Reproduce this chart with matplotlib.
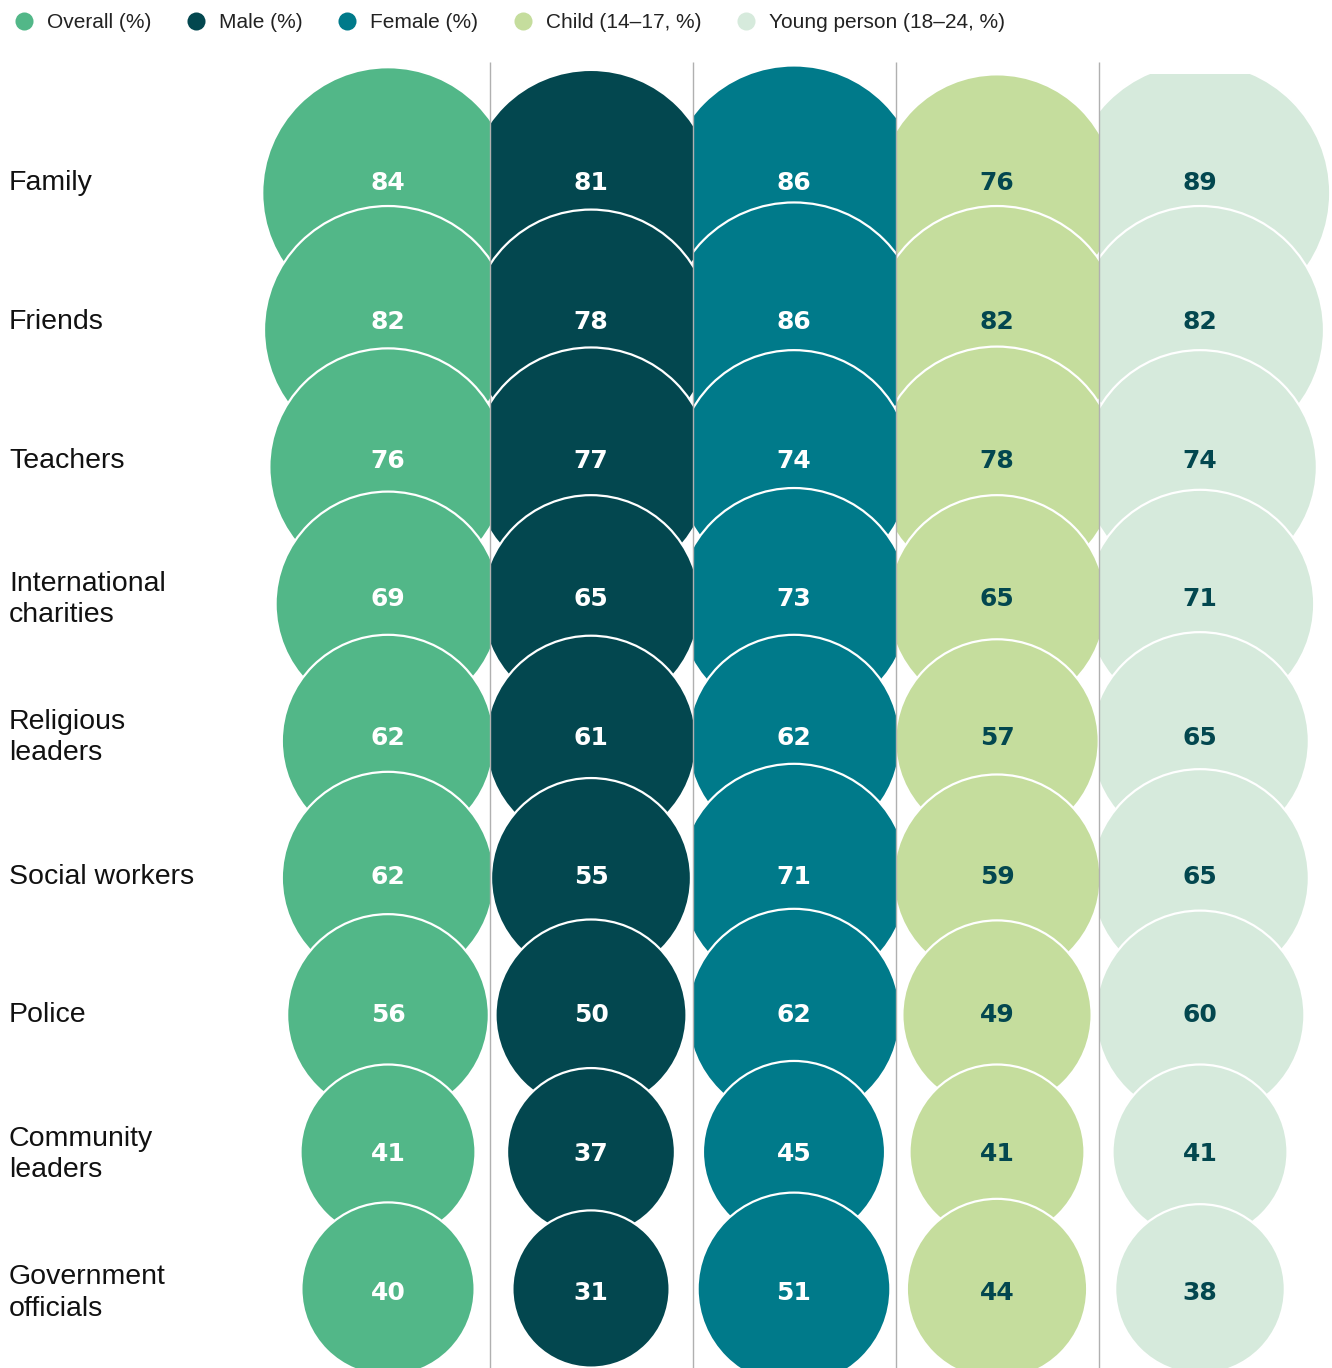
"""Trust in groups, bubble grid by respondent group."""

import matplotlib.pyplot as plt
from matplotlib.lines import Line2D
from matplotlib.patches import Circle, Rectangle
import numpy as np

groups = [
    "Family",
    "Friends",
    "Teachers",
    "International\ncharities",
    "Religious\nleaders",
    "Social workers",
    "Police",
    "Community\nleaders",
    "Government\nofficials",
]
series = [
    "Overall (%)",
    "Male (%)",
    "Female (%)",
    "Child (14–17, %)",
    "Young person (18–24, %)",
]

overall = [84, 82, 76, 69, 62, 62, 56, 41, 40]
male = [81, 78, 77, 65, 61, 55, 50, 37, 31]
female = [86, 86, 74, 73, 62, 71, 62, 45, 51]
child = [76, 82, 78, 65, 57, 59, 49, 41, 44]
young = [89, 82, 74, 71, 65, 65, 60, 41, 38]

colors = ["#52b788", "#03474f", "#007a8a", "#c5dd9d", "#d6eadc"]
value_colors = ["white", "white", "white", "#03474f", "#03474f"]

# layout, in pixels of the saved image
W, H, DPI = 1332, 1368, 100
UNIT = 137.0            # one row of bubbles
COL_STEP = 203 / UNIT   # distance between columns
X_FIRST = 388           # centre of the first column
Y_FIRST = 193           # centre of the first row
TOP = 62                # top of the column rules


def radius(v):
    return (51 + 0.89 * v) / UNIT


def main():
    data = [overall, male, female, child, young]
    n_rows = len(groups)
    n_cols = len(series)

    fig = plt.figure(figsize=(W / DPI, H / DPI), dpi=DPI)
    ax = fig.add_axes([0, 0, 1, (H - TOP) / H])
    x_lo, x_hi = -X_FIRST / UNIT, (W - X_FIRST) / UNIT
    y_top, y_bot = -(Y_FIRST - TOP) / UNIT, (H - Y_FIRST) / UNIT
    ax.set_xlim(x_lo, x_hi)
    ax.set_ylim(y_bot, y_top)
    ax.axis("off")

    xs = np.arange(n_cols) * COL_STEP
    ys = np.arange(n_rows)
    # text rows sit on a slightly wider grid than the bubbles
    label_ys = np.linspace(-10 / UNIT, (1293 - Y_FIRST) / UNIT, n_rows)

    # each column keeps its bubbles inside its own strip
    clips = []
    for i in range(n_cols):
        left = x_lo if i == 0 else xs[i] - COL_STEP / 2
        right = x_hi if i == n_cols - 1 else xs[i] + COL_STEP / 2
        top = y_top + (12 / UNIT if i == n_cols - 1 else 0)
        clips.append(Rectangle((left, top), right - left, y_bot - top + 1,
                               transform=ax.transData))

    for j in ys:
        for i in range(n_cols):
            v = data[i][j]
            c = Circle((xs[i], j), radius(v), facecolor=colors[i],
                       edgecolor="white", linewidth=1.6, zorder=2)
            ax.add_patch(c)
            c.set_clip_path(clips[i])

    for j in ys:
        for i in range(n_cols):
            ax.text(xs[i], label_ys[j], str(data[i][j]), ha="center", va="center",
                    fontsize=18, fontweight="bold", family="DejaVu Sans",
                    color=value_colors[i], zorder=5)
        ax.text(9 / W, label_ys[j], groups[j], transform=ax.get_yaxis_transform(),
                ha="left", va="center", fontsize=20.5, family="Liberation Sans",
                color="#111111", linespacing=1.25)

    ax.vlines(xs[:-1] + COL_STEP / 2, y_top, y_bot, color="#b0b0b0",
              linewidth=1.0, zorder=4)

    handles = [Line2D([], [], ls="none", marker="o", ms=13, mfc=c, mec="none")
               for c in colors]
    fig.legend(handles, series, loc="center left",
               bbox_to_anchor=(0.011, 1 - 23 / H), ncol=n_cols, frameon=False,
               prop={"family": "Liberation Sans", "size": 15},
               labelcolor="#222222", handlelength=0.9, handletextpad=0.65,
               columnspacing=1.7, borderpad=0, borderaxespad=0)

    fig.savefig("out.png", dpi=DPI)
    plt.close(fig)


if __name__ == "__main__":
    main()
